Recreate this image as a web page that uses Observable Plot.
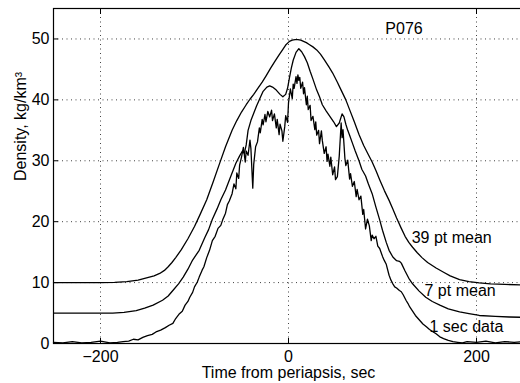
<!DOCTYPE html>
<html>
<head>
<meta charset="utf-8">
<script src="https://cdn.jsdelivr.net/npm/d3@7"></script>
<script src="https://cdn.jsdelivr.net/npm/@observablehq/plot@0.6"></script>
<style>
  html, body { margin: 0; padding: 0; background: #fff; }
</style>
</head>
<body>
<div id="chart"></div>
<script>
// Atmospheric density through periapsis pass P076.
// The 7 pt and 39 pt running means are drawn offset by +5 and +10 kg/km³.

const xTicks = [-200, 0, 200];
const yTicks = [0, 10, 20, 30, 40, 50];
const yGrid = [10, 20, 30, 40, 50];

const passLabel = "P076";
const xLabel = "Time from periapsis, sec";
const yLabel = "Density, kg/km³";

// 1 sec data
const sec1Time = [-250, -240, -230, -220, -210, -200, -190, -182, -176, -170, -165, -160, -155, -150, -145, -141, -136, -131, -127, -123, -120, -116, -113, -110, -107, -105, -102, -100, -97, -95, -92, -90, -87, -84, -81, -78, -75, -72, -70, -67, -65, -63, -60, -58, -56, -55, -53, -52, -50, -48, -46, -45, -43, -41, -40, -38, -37, -35, -33, -31, -30, -28, -27, -25, -24, -22, -20, -18, -17, -15, -13, -12, -10, -9, -7, -6, -4, -3, -1, 0, 2, 4, 5, 6, 8, 9, 10, 11, 12, 13, 15, 16, 17, 19, 20, 21, 23, 24, 26, 28, 29, 30, 32, 33, 35, 36, 38, 40, 41, 42, 44, 45, 47, 49, 50, 52, 54, 55, 56, 57, 58, 60, 61, 63, 65, 66, 68, 70, 72, 73, 75, 77, 79, 80, 82, 84, 86, 88, 89, 91, 93, 95, 97, 100, 102, 104, 107, 109, 111, 113, 115, 118, 120, 122, 125, 127, 129, 132, 135, 139, 143, 147, 150, 154, 157, 161, 165, 170, 175, 180, 185, 190, 200, 210, 220, 230, 240, 250];
const sec1Density = [0.2, 0.1, 0.3, 0.1, 0.2, 0.4, 0.1, 0.2, 0.3, 0.4, 0.7, 0.6, 1.0, 1.3, 1.5, 1.9, 2.2, 2.6, 3.0, 3.3, 4.1, 4.9, 5.3, 6.3, 6.9, 7.6, 8.4, 9.3, 10.1, 10.9, 12.0, 12.6, 14.1, 15.3, 16.9, 17.6, 18.9, 19.4, 20.3, 21.4, 22.8, 23.4, 24.6, 26.2, 25.4, 28.0, 27.1, 29.3, 30.6, 32.2, 29.8, 31.6, 30.9, 33.4, 32.0, 25.5, 29.4, 32.3, 33.1, 35.4, 34.6, 36.8, 35.9, 37.6, 36.4, 38.1, 37.2, 38.3, 36.6, 37.7, 35.4, 36.8, 34.3, 36.0, 34.9, 33.2, 35.6, 37.4, 36.3, 39.5, 41.8, 40.2, 42.6, 41.9, 43.8, 42.7, 44.1, 43.2, 43.7, 41.9, 42.9, 41.0, 42.0, 39.2, 40.6, 38.4, 39.1, 36.6, 37.3, 35.1, 36.4, 34.2, 35.0, 32.8, 34.9, 33.3, 31.2, 32.3, 29.9, 31.1, 29.1, 30.6, 27.7, 29.0, 26.9, 27.4, 30.8, 33.5, 36.2, 33.8, 35.1, 30.4, 29.2, 30.1, 27.0, 27.9, 25.8, 26.6, 24.1, 25.3, 23.6, 24.2, 21.2, 22.0, 18.8, 20.4, 19.3, 16.9, 17.8, 17.2, 17.6, 16.0, 15.6, 14.3, 13.6, 13.0, 11.2, 10.4, 9.8, 9.3, 9.1, 8.7, 8.5, 8.0, 7.1, 6.6, 6.0, 5.3, 4.6, 3.9, 3.2, 2.7, 2.3, 1.9, 1.6, 1.1, 0.8, 0.5, 0.3, 0.2, 0.1, 0.3, 0.2, 0.4, 0.1, 0.3, 0.2, 0.3];

// 7 pt mean (+5 offset)
const mean7Time = [-250, -220, -200, -187, -175, -162, -153, -144, -134, -128, -123, -117, -112, -107, -102, -95, -89, -85, -81, -76, -72, -67, -62, -56, -52, -49, -47, -45, -43, -40, -37, -34, -30, -27, -23, -20, -17, -13, -9, -6, -3, -1, 1, 3, 5, 8, 11, 14, 17, 20, 23, 26, 30, 33, 36, 40, 44, 48, 51, 54, 57, 59, 61, 63, 65, 68, 71, 75, 78, 82, 85, 89, 93, 97, 100, 104, 107, 111, 115, 118, 120, 124, 128, 132, 139, 146, 153, 161, 170, 182, 192, 203, 220, 235, 250];
const mean7Density = [5.0, 5.0, 5.0, 5.0, 5.1, 5.4, 5.8, 6.3, 7.1, 7.8, 8.7, 9.8, 10.9, 12.2, 13.7, 15.3, 17.4, 18.7, 20.4, 22.1, 23.6, 25.2, 27.2, 29.6, 30.8, 31.6, 31.2, 32.6, 35.0, 36.6, 37.8, 39.0, 40.4, 41.4, 42.1, 42.3, 42.1, 41.6, 40.9, 40.5, 40.9, 41.9, 43.6, 45.2, 46.5, 47.8, 48.4, 47.9, 47.1, 46.1, 44.7, 43.4, 41.6, 40.5, 39.2, 38.2, 37.3, 36.4, 35.6, 36.2, 37.7, 37.2, 36.0, 35.0, 34.2, 32.9, 31.6, 30.0, 28.6, 27.5, 26.2, 24.6, 22.4, 20.3, 18.6, 16.6, 15.3, 14.2, 13.6, 13.5, 13.2, 11.9, 10.7, 9.8, 8.6, 7.6, 6.9, 6.3, 5.7, 5.2, 4.9, 4.6, 4.45, 4.35, 4.3];

// 39 pt mean (+10 offset)
const mean39Time = [-250, -225, -200, -185, -172, -160, -150, -143, -137, -132, -128, -124, -120, -114, -107, -100, -94, -87, -80, -73, -67, -60, -55, -50, -45, -41, -37, -33, -28, -24, -19, -15, -10, -6, -3, 1, 4, 7, 10, 13, 16, 19, 22, 26, 30, 34, 38, 43, 47, 52, 56, 61, 65, 70, 75, 80, 85, 89, 93, 97, 102, 107, 111, 115, 120, 124, 128, 132, 137, 142, 148, 157, 165, 172, 182, 192, 203, 215, 230, 250];
const mean39Density = [10.0, 10.0, 10.0, 10.05, 10.15, 10.4, 10.8, 11.1, 11.5, 12.0, 12.6, 13.3, 14.1, 15.4, 17.2, 19.2, 21.2, 23.6, 26.6, 29.7, 32.3, 35.0, 36.6, 38.0, 39.2, 40.1, 40.9, 41.8, 42.9, 43.9, 45.2, 46.2, 47.4, 48.3, 49.0, 49.6, 49.8, 49.9, 49.9, 49.8, 49.6, 49.4, 49.1, 48.7, 48.2, 47.5, 46.6, 45.4, 44.4, 42.9, 41.6, 40.0, 38.4, 36.4, 34.3, 32.5, 31.0, 29.8, 28.4, 26.9, 25.1, 23.5, 22.1, 20.6, 18.9, 17.6, 16.6, 15.8, 14.9, 14.1, 13.3, 12.4, 11.7, 11.1, 10.5, 10.15, 9.95, 9.8, 9.7, 9.6];

// Curve labels, placed in data units
const curveLabels = ["39 pt mean", "7 pt mean", "1 sec data"];
const curveLabelTime = [131, 144.7, 150];
const curveLabelDensity = [17.4, 8.7, 2.7];

const toPoints = (ts, vs) => ts.map((t, i) => ({t, v: vs[i]}));
const sec1 = toPoints(sec1Time, sec1Density);
const mean7 = toPoints(mean7Time, mean7Density);
const mean39 = toPoints(mean39Time, mean39Density);
const labels = curveLabels.map((text, i) => ({text, t: curveLabelTime[i], v: curveLabelDensity[i]}));

const font = "'Liberation Sans', Arial, Helvetica, sans-serif";
const gridStyle = {stroke: "#222", strokeOpacity: 0.85, strokeWidth: 1, strokeDasharray: "1,3.5"};
const lineStyle = {x: "t", y: "v", stroke: "#000", strokeWidth: 1.3, curve: "linear"};

const chart = Plot.plot({
  width: 520,
  height: 383,
  marginLeft: 53,
  marginRight: -3,
  marginTop: 8,
  marginBottom: 40,
  style: {fontFamily: font, fontSize: "16px", color: "#000", background: "#fff"},
  x: {domain: [-250, 250]},
  y: {domain: [0, 55]},
  marks: [
    Plot.gridX(xTicks, gridStyle),
    Plot.gridY(yGrid, gridStyle),
    Plot.line(mean39, lineStyle),
    Plot.line(mean7, lineStyle),
    Plot.line(sec1, lineStyle),
    Plot.frame({stroke: "#000", strokeWidth: 1.2}),
    Plot.axisX(xTicks, {anchor: "bottom", tickSize: -5, tickPadding: 12, label: null, fontSize: 16}),
    Plot.axisX(xTicks, {anchor: "top", tickSize: -5, tickFormat: () => "", label: null}),
    Plot.axisY(yTicks, {anchor: "left", tickSize: -5, tickPadding: 9, label: null, fontSize: 16}),
    Plot.text([xLabel], {frameAnchor: "bottom", lineAnchor: "top", dy: 23.5, fontSize: 16, fill: "#000"}),
    Plot.text([yLabel], {frameAnchor: "left", rotate: -90, lineAnchor: "middle", dx: -33, dy: 5, fontSize: 16, fill: "#000"}),
    Plot.text([passLabel], {x: () => 103, y: () => 51.6, textAnchor: "start", lineAnchor: "middle", fontSize: 16, fill: "#000"}),
    Plot.text(labels, {x: "t", y: "v", text: "text", textAnchor: "start", lineAnchor: "middle", fontSize: 16, fill: "#000"})
  ]
});

document.getElementById("chart").append(chart);
</script>
</body>
</html>
